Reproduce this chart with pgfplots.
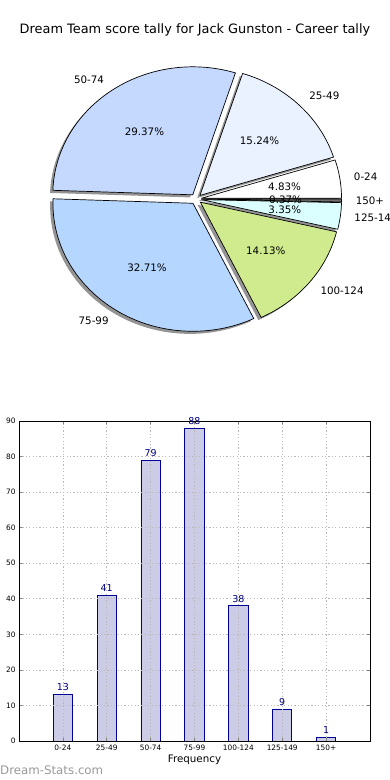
\documentclass[border=0pt]{standalone}
\usepackage{fontspec}
\setmainfont{DejaVu Sans}
\usepackage{pgfplots}
\usepackage{pgfplotstable}
\pgfplotsset{compat=1.18}

\definecolor{slice0}{HTML}{FFFFFF}
\definecolor{slice1}{HTML}{EBF2FF}
\definecolor{slice2}{HTML}{C5D9FF}
\definecolor{slice3}{HTML}{B5D6FF}
\definecolor{slice4}{HTML}{D0EB8D}
\definecolor{slice5}{HTML}{DBFFFF}
\definecolor{slice6}{HTML}{707070}
\definecolor{barfill}{HTML}{CCCCE6}
\definecolor{baredge}{HTML}{000099}
\definecolor{valcol}{HTML}{000080}

\pgfplotstableread{
idx label count
0 0-24 13
1 25-49 41
2 50-74 79
3 75-99 88
4 100-124 38
5 125-149 9
6 150+ 1
}\scoretable

\newcommand\V[2]{\csname #1#2\endcsname}
\newcommand\fsz[1]{\fontsize{#1bp}{#1bp}\selectfont}

\begin{document}
\begin{tikzpicture}

\def\myTotal{0}
\pgfplotsforeachungrouped \i in {0,...,6}{%
  \pgfplotstablegetelem{\i}{count}\of\scoretable
  \pgfmathsetmacro\myTotal{\myTotal+\pgfplotsretval}%
}
\def\myCum{0}
\pgfplotsforeachungrouped \i in {0,...,6}{%
  \pgfplotstablegetelem{\i}{count}\of\scoretable
  \let\myCnt\pgfplotsretval
  \pgfmathsetmacro\mySa{360*(\myCum/\myTotal)}%
  \pgfmathsetmacro\myCum{\myCum+\myCnt}%
  \pgfmathsetmacro\myEa{360*(\myCum/\myTotal)}%
  \pgfmathsetmacro\myMd{(\mySa+\myEa)/2}%
  \pgfmathsetmacro\myEx{0.04*cos(\myMd)}%
  \pgfmathsetmacro\myEy{0.04*sin(\myMd)}%
  \pgfmathsetmacro\myPx{\myEx+cos(\mySa)}%
  \pgfmathsetmacro\myPy{\myEy+sin(\mySa)}%
  \pgfmathsetmacro\myLx{\myEx+1.1*cos(\myMd)}%
  \pgfmathsetmacro\myLy{\myEy+1.1*sin(\myMd)}%
  \pgfmathsetmacro\myTx{\myEx+0.6*cos(\myMd)}%
  \pgfmathsetmacro\myTy{\myEy+0.6*sin(\myMd)}%
  \pgfmathsetmacro\myPct{(100*\myCnt)/\myTotal}%
  \pgfmathtruncatemacro\myRight{cos(\myMd)>0}%
  \ifnum\myRight=1 \def\myAnc{west}\else\def\myAnc{east}\fi
  \expandafter\let\csname pieSa\i\endcsname\mySa
  \expandafter\let\csname pieEa\i\endcsname\myEa
  \expandafter\let\csname pieEx\i\endcsname\myEx
  \expandafter\let\csname pieEy\i\endcsname\myEy
  \expandafter\let\csname piePx\i\endcsname\myPx
  \expandafter\let\csname piePy\i\endcsname\myPy
  \expandafter\let\csname pieLx\i\endcsname\myLx
  \expandafter\let\csname pieLy\i\endcsname\myLy
  \expandafter\let\csname pieTx\i\endcsname\myTx
  \expandafter\let\csname pieTy\i\endcsname\myTy
  \expandafter\let\csname piePct\i\endcsname\myPct
  \expandafter\let\csname pieAnc\i\endcsname\myAnc
  \pgfplotstablegetelem{\i}{label}\of\scoretable
  \expandafter\let\csname pieLab\i\endcsname\pgfplotsretval
}

\node[font=\fsz{12.9}] at (195bp,750bp) {Dream Team score tally for Jack Gunston - Career tally};

% ---------------- pie ----------------
\begin{axis}[at={(196bp,581bp)}, anchor=origin, x=140bp, y=128bp,
  xmin=-1.3, xmax=1.3, ymin=-1.2, ymax=1.2,
  axis lines=none, ticks=none, clip=false]
\pgfplotsinvokeforeach{0,...,6}{%
  \fill[black, fill opacity=0.42, transform canvas={shift={(-2.8bp,-2.6bp)}}]
    (axis cs:\V{pieEx}{#1},\V{pieEy}{#1}) -- (axis cs:\V{piePx}{#1},\V{piePy}{#1})
    arc[start angle=\V{pieSa}{#1}, end angle=\V{pieEa}{#1}, x radius=140bp, y radius=128bp] -- cycle;
}
\pgfplotsinvokeforeach{0,...,6}{%
  \draw[fill=slice#1, line width=0.7bp, line join=round]
    (axis cs:\V{pieEx}{#1},\V{pieEy}{#1}) -- (axis cs:\V{piePx}{#1},\V{piePy}{#1})
    arc[start angle=\V{pieSa}{#1}, end angle=\V{pieEa}{#1}, x radius=140bp, y radius=128bp] -- cycle;
}
\pgfplotsinvokeforeach{0,...,6}{%
  \node[anchor=\V{pieAnc}{#1}, font=\fsz{10.3}, inner sep=0pt] at (axis cs:\V{pieLx}{#1},\V{pieLy}{#1}) {\V{pieLab}{#1}};
  \node[font=\fsz{10.3}, inner sep=0pt] at (axis cs:\V{pieTx}{#1},\V{pieTy}{#1})
    {\pgfmathprintnumber[fixed,fixed zerofill,precision=2,assume math mode=true]{\V{piePct}{#1}}\%};
}
\end{axis}

% ---------------- bars ----------------
\begin{axis}[at={(19bp,39bp)}, anchor=south west, scale only axis,
  width=351bp, height=320bp,
  xmin=-1, xmax=7, ymin=0, ymax=90,
  xtick={0,...,6}, xticklabels from table={\scoretable}{label},
  ytick={0,10,...,90},
  ybar, bar width=0.44,
  grid=major, grid style={dash pattern=on 1.2bp off 2.2bp, color=gray!55, line width=0.7bp},
  axis on top,
  axis line style={black, line width=0.8bp},
  tick style={gray, line width=0.6bp}, major tick length=3bp, tick align=inside,
  ticklabel style={font=\fsz{7.4}},
  /pgf/number format/assume math mode=true,
  xlabel={Frequency},
  xlabel style={at={(axis description cs:0.5,0)}, anchor=center, yshift=-19bp, font=\fsz{10.3}},
  nodes near coords,
  every node near coord/.append style={text=valcol, font=\fsz{9.5}},
]
\addplot[fill=barfill, draw=baredge, line width=0.8bp] table[x=idx, y=count] {\scoretable};
\end{axis}

\node[anchor=west, inner sep=0pt, text=black!40, font=\fsz{11.8}] at (0bp,10bp) {Dream-Stats.com};

\pgfresetboundingbox
\path[use as bounding box] (0bp,0bp) rectangle (390bp,780bp);
\end{tikzpicture}
\end{document}
